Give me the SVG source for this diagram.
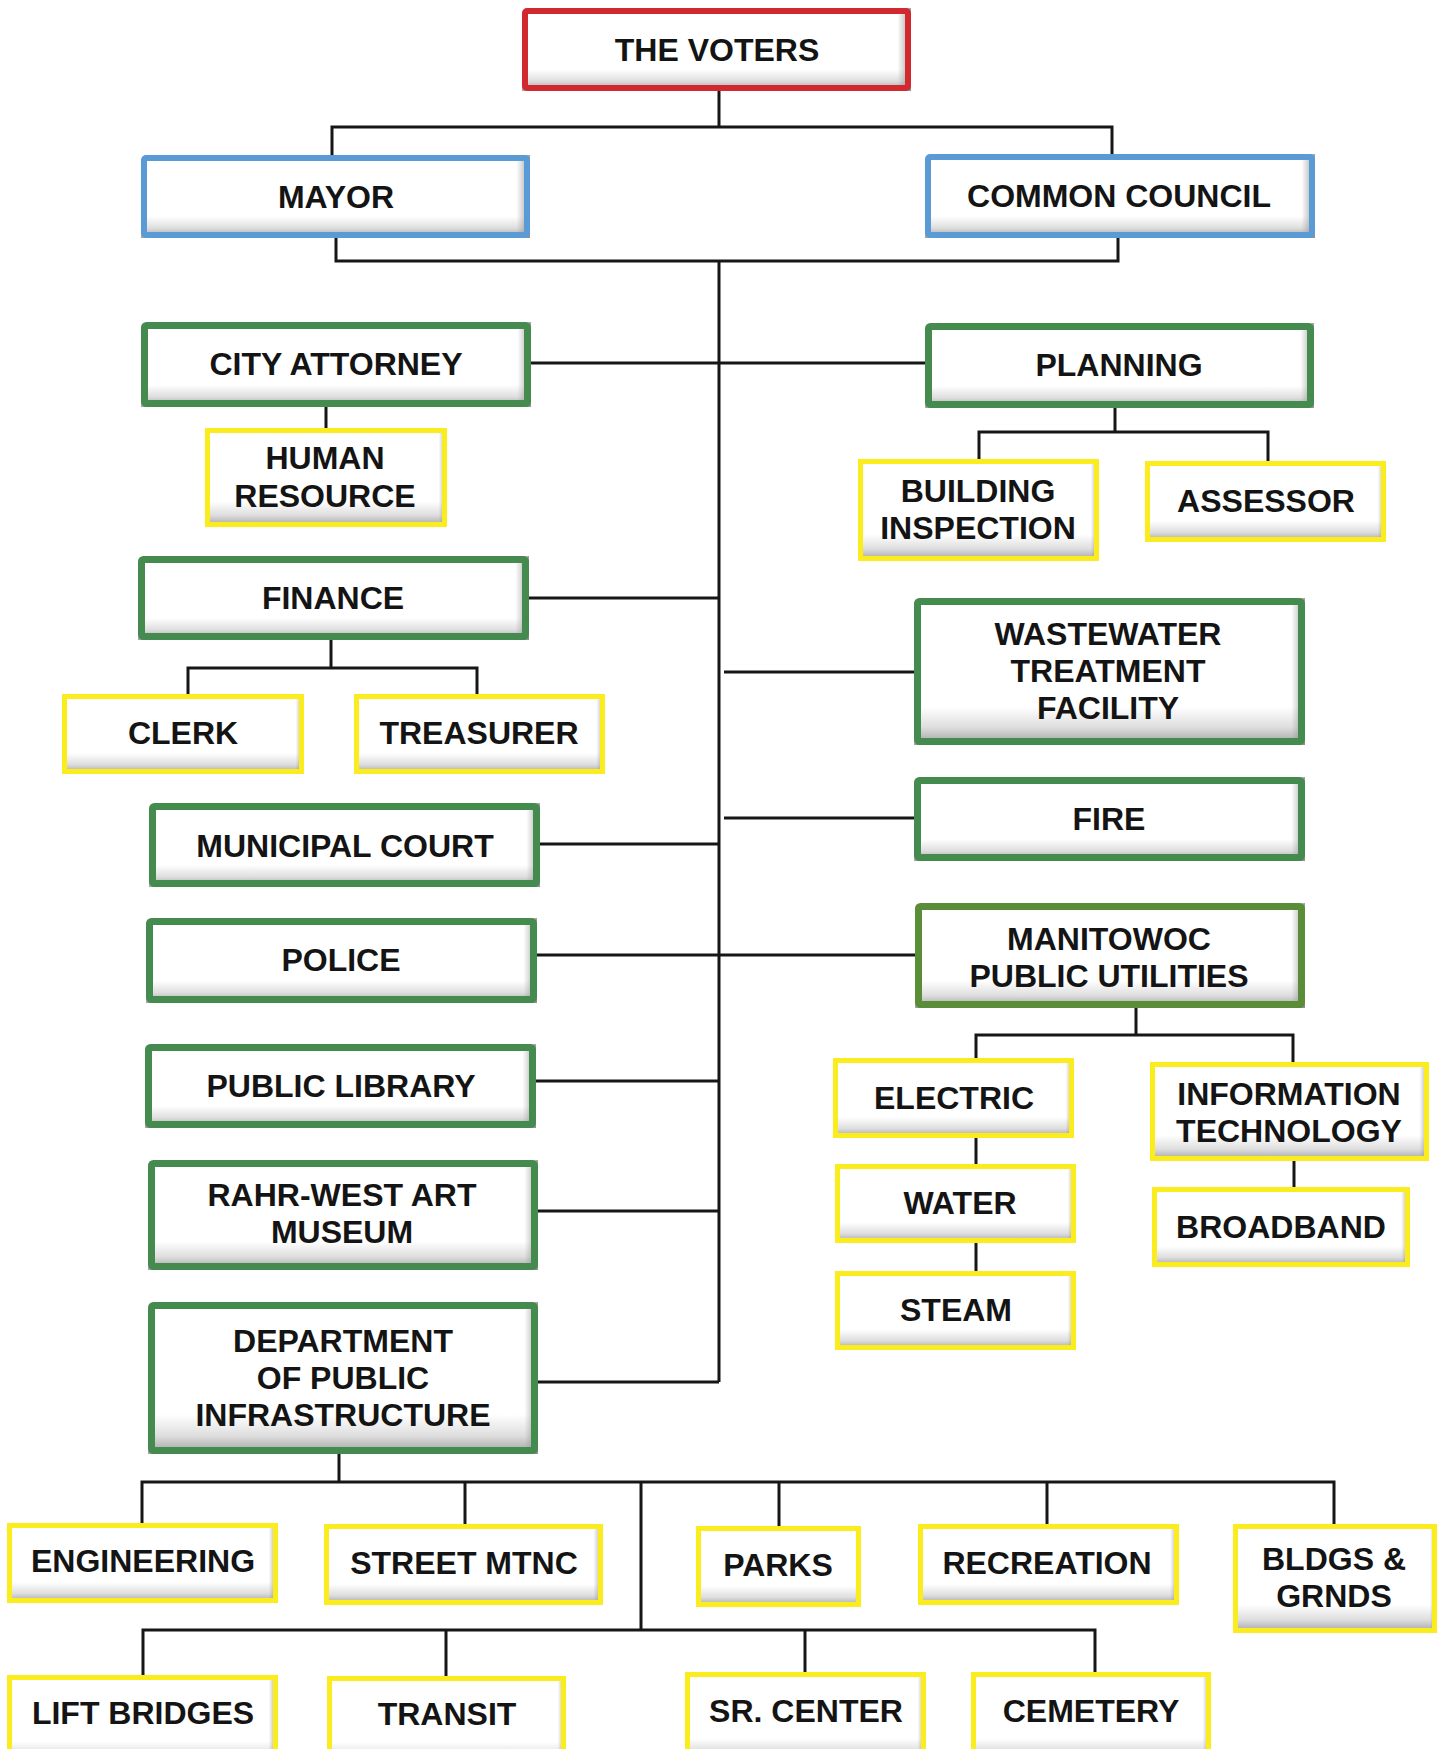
<svg xmlns="http://www.w3.org/2000/svg" width="1443" height="1749" viewBox="0 0 1443 1749">
<defs>
<linearGradient id="vg" x1="0" y1="0" x2="0" y2="1">
<stop offset="0" stop-color="#ffffff"/>
<stop offset="0.74" stop-color="#ffffff"/>
<stop offset="0.88" stop-color="#dedede"/>
<stop offset="1" stop-color="#9e9e9e"/>
</linearGradient>
<linearGradient id="hg" x1="0" y1="0" x2="1" y2="0">
<stop offset="0" stop-color="#9a9a9a" stop-opacity="0"/>
<stop offset="0.965" stop-color="#9a9a9a" stop-opacity="0"/>
<stop offset="1" stop-color="#8a8a8a" stop-opacity="0.85"/>
</linearGradient>
<style>
.f{fill:url(#vg)}
.h{fill:url(#hg)}
.b{fill:none}
.red .b{stroke:#d2282f;stroke-width:6}
.blue .b{stroke:#5b9bd5;stroke-width:6}
.green .b{stroke:#458a4f;stroke-width:7}
.olive .b{stroke:#5b8c37;stroke-width:7}
.yellow .b{stroke:#fbec1e;stroke-width:5}
text{font-family:"Liberation Sans",Arial,sans-serif;font-weight:bold;font-size:32px;fill:#141414;text-anchor:middle}
#connectors path{fill:none;stroke:#161616;stroke-width:3}
</style>
</defs>
<rect width="1443" height="1749" fill="#ffffff"/>
<g id="connectors">
<path d="M719,91 V127"/>
<path d="M332,156 V127 H1112 V154"/>
<path d="M336,238 V261 H1118 V238"/>
<path d="M719,261 V1382"/>
<path d="M531,363 H925"/>
<path d="M326,407 V428"/>
<path d="M1115,408 V432 M979,459 V432 H1268 V461"/>
<path d="M529,598 H719"/>
<path d="M331,640 V668 M188,694 V668 H477 V694"/>
<path d="M724,672 H914"/>
<path d="M724,818 H914"/>
<path d="M540,844 H719"/>
<path d="M537,955 H915"/>
<path d="M1136,1008 V1035 M976,1058 V1035 H1293 V1062"/>
<path d="M536,1081 H719"/>
<path d="M976,1138 V1164"/>
<path d="M976,1243 V1271"/>
<path d="M1294,1161 V1187"/>
<path d="M538,1211 H719"/>
<path d="M538,1382 H719"/>
<path d="M339,1454 V1482 M142,1523 V1482 H1334 V1524 M465,1482 V1524 M779,1482 V1526 M1047,1482 V1524"/>
<path d="M641,1482 V1630 M143,1675 V1630 H1095 V1672 M446,1630 V1676 M805,1630 V1672"/>
</g>

<g id="n-voters" class="red"><rect class="f" x="522" y="8" width="389" height="83"/><rect class="h" x="522" y="8" width="389" height="83"/><rect class="b" x="525" y="11" width="383" height="77" rx="2"/><text x="717" y="61">THE VOTERS</text></g>
<g id="n-mayor" class="blue"><rect class="f" x="141" y="155" width="389" height="83"/><rect class="h" x="141" y="155" width="389" height="83"/><rect class="b" x="144" y="158" width="383" height="77" rx="2"/><text x="336" y="208">MAYOR</text></g>
<g id="n-council" class="blue"><rect class="f" x="925" y="154" width="390" height="84"/><rect class="h" x="925" y="154" width="390" height="84"/><rect class="b" x="928" y="157" width="384" height="78" rx="2"/><text x="1119" y="207">COMMON COUNCIL</text></g>

<g id="n-attorney" class="green"><rect class="f" x="141" y="322" width="390" height="85"/><rect class="h" x="141" y="322" width="390" height="85"/><rect class="b" x="144.5" y="325.5" width="383" height="78" rx="2"/><text x="336" y="375">CITY ATTORNEY</text></g>
<g id="n-planning" class="green"><rect class="f" x="925" y="323" width="389" height="85"/><rect class="h" x="925" y="323" width="389" height="85"/><rect class="b" x="928.5" y="326.5" width="382" height="78" rx="2"/><text x="1119" y="376">PLANNING</text></g>
<g id="n-hr" class="yellow"><rect class="f" x="205" y="428" width="242" height="99"/><rect class="h" x="205" y="428" width="242" height="99"/><rect class="b" x="207.5" y="430.5" width="237" height="94"/><text x="325" y="469">HUMAN</text><text x="325" y="507">RESOURCE</text></g>
<g id="n-building" class="yellow"><rect class="f" x="858" y="459" width="241" height="102"/><rect class="h" x="858" y="459" width="241" height="102"/><rect class="b" x="860.5" y="461.5" width="236" height="97"/><text x="978" y="502">BUILDING</text><text x="978" y="539">INSPECTION</text></g>
<g id="n-assessor" class="yellow"><rect class="f" x="1145" y="461" width="241" height="81"/><rect class="h" x="1145" y="461" width="241" height="81"/><rect class="b" x="1147.5" y="463.5" width="236" height="76"/><text x="1266" y="512">ASSESSOR</text></g>

<g id="n-finance" class="green"><rect class="f" x="138" y="556" width="391" height="84"/><rect class="h" x="138" y="556" width="391" height="84"/><rect class="b" x="141.5" y="559.5" width="384" height="77" rx="2"/><text x="333" y="609">FINANCE</text></g>
<g id="n-clerk" class="yellow"><rect class="f" x="62" y="694" width="242" height="80"/><rect class="h" x="62" y="694" width="242" height="80"/><rect class="b" x="64.5" y="696.5" width="237" height="75"/><text x="183" y="744">CLERK</text></g>
<g id="n-treasurer" class="yellow"><rect class="f" x="354" y="694" width="251" height="80"/><rect class="h" x="354" y="694" width="251" height="80"/><rect class="b" x="356.5" y="696.5" width="246" height="75"/><text x="479" y="744">TREASURER</text></g>

<g id="n-wastewater" class="green"><rect class="f" x="914" y="598" width="391" height="147"/><rect class="h" x="914" y="598" width="391" height="147"/><rect class="b" x="917.5" y="601.5" width="384" height="140" rx="2"/><text x="1108" y="645">WASTEWATER</text><text x="1108" y="682">TREATMENT</text><text x="1108" y="719">FACILITY</text></g>
<g id="n-fire" class="green"><rect class="f" x="914" y="777" width="391" height="84"/><rect class="h" x="914" y="777" width="391" height="84"/><rect class="b" x="917.5" y="780.5" width="384" height="77" rx="2"/><text x="1109" y="830">FIRE</text></g>
<g id="n-court" class="green"><rect class="f" x="149" y="803" width="391" height="84"/><rect class="h" x="149" y="803" width="391" height="84"/><rect class="b" x="152.5" y="806.5" width="384" height="77" rx="2"/><text x="345" y="857">MUNICIPAL COURT</text></g>
<g id="n-police" class="green"><rect class="f" x="146" y="918" width="391" height="85"/><rect class="h" x="146" y="918" width="391" height="85"/><rect class="b" x="149.5" y="921.5" width="384" height="78" rx="2"/><text x="341" y="971">POLICE</text></g>
<g id="n-mpu" class="olive"><rect class="f" x="915" y="903" width="390" height="105"/><rect class="h" x="915" y="903" width="390" height="105"/><rect class="b" x="918.5" y="906.5" width="383" height="98" rx="2"/><text x="1109" y="950">MANITOWOC</text><text x="1109" y="987">PUBLIC UTILITIES</text></g>
<g id="n-electric" class="yellow"><rect class="f" x="833" y="1058" width="241" height="80"/><rect class="h" x="833" y="1058" width="241" height="80"/><rect class="b" x="835.5" y="1060.5" width="236" height="75"/><text x="954" y="1109">ELECTRIC</text></g>
<g id="n-it" class="yellow"><rect class="f" x="1150" y="1062" width="279" height="99"/><rect class="h" x="1150" y="1062" width="279" height="99"/><rect class="b" x="1152.5" y="1064.5" width="274" height="94"/><text x="1289" y="1105">INFORMATION</text><text x="1289" y="1142">TECHNOLOGY</text></g>
<g id="n-library" class="green"><rect class="f" x="145" y="1044" width="391" height="84"/><rect class="h" x="145" y="1044" width="391" height="84"/><rect class="b" x="148.5" y="1047.5" width="384" height="77" rx="2"/><text x="341" y="1097">PUBLIC LIBRARY</text></g>
<g id="n-water" class="yellow"><rect class="f" x="835" y="1164" width="241" height="79"/><rect class="h" x="835" y="1164" width="241" height="79"/><rect class="b" x="837.5" y="1166.5" width="236" height="74"/><text x="960" y="1214">WATER</text></g>
<g id="n-broadband" class="yellow"><rect class="f" x="1152" y="1187" width="258" height="80"/><rect class="h" x="1152" y="1187" width="258" height="80"/><rect class="b" x="1154.5" y="1189.5" width="253" height="75"/><text x="1281" y="1238">BROADBAND</text></g>
<g id="n-rahr" class="green"><rect class="f" x="148" y="1160" width="390" height="110"/><rect class="h" x="148" y="1160" width="390" height="110"/><rect class="b" x="151.5" y="1163.5" width="383" height="103" rx="2"/><text x="342" y="1206">RAHR-WEST ART</text><text x="342" y="1243">MUSEUM</text></g>
<g id="n-steam" class="yellow"><rect class="f" x="835" y="1271" width="241" height="79"/><rect class="h" x="835" y="1271" width="241" height="79"/><rect class="b" x="837.5" y="1273.5" width="236" height="74"/><text x="956" y="1321">STEAM</text></g>
<g id="n-dpi" class="green"><rect class="f" x="148" y="1302" width="390" height="152"/><rect class="h" x="148" y="1302" width="390" height="152"/><rect class="b" x="151.5" y="1305.5" width="383" height="145" rx="2"/><text x="343" y="1352">DEPARTMENT</text><text x="343" y="1389">OF PUBLIC</text><text x="343" y="1426">INFRASTRUCTURE</text></g>

<g id="n-engineering" class="yellow"><rect class="f" x="7" y="1523" width="271" height="80"/><rect class="h" x="7" y="1523" width="271" height="80"/><rect class="b" x="9.5" y="1525.5" width="266" height="75"/><text x="143" y="1572">ENGINEERING</text></g>
<g id="n-street" class="yellow"><rect class="f" x="324" y="1524" width="279" height="81"/><rect class="h" x="324" y="1524" width="279" height="81"/><rect class="b" x="326.5" y="1526.5" width="274" height="76"/><text x="464" y="1574">STREET MTNC</text></g>
<g id="n-parks" class="yellow"><rect class="f" x="696" y="1526" width="165" height="81"/><rect class="h" x="696" y="1526" width="165" height="81"/><rect class="b" x="698.5" y="1528.5" width="160" height="76"/><text x="778" y="1576">PARKS</text></g>
<g id="n-recreation" class="yellow"><rect class="f" x="918" y="1524" width="261" height="81"/><rect class="h" x="918" y="1524" width="261" height="81"/><rect class="b" x="920.5" y="1526.5" width="256" height="76"/><text x="1047" y="1574">RECREATION</text></g>
<g id="n-bldgs" class="yellow"><rect class="f" x="1233" y="1524" width="204" height="109"/><rect class="h" x="1233" y="1524" width="204" height="109"/><rect class="b" x="1235.5" y="1526.5" width="199" height="104"/><text x="1334" y="1570">BLDGS &amp;</text><text x="1334" y="1607">GRNDS</text></g>

<g id="n-lift" class="yellow"><rect class="f" x="7" y="1675" width="271" height="90"/><rect class="h" x="7" y="1675" width="271" height="90"/><rect class="b" x="9.5" y="1677.5" width="266" height="85"/><text x="143" y="1724">LIFT BRIDGES</text></g>
<g id="n-transit" class="yellow"><rect class="f" x="327" y="1676" width="239" height="90"/><rect class="h" x="327" y="1676" width="239" height="90"/><rect class="b" x="329.5" y="1678.5" width="234" height="85"/><text x="447" y="1725">TRANSIT</text></g>
<g id="n-srcenter" class="yellow"><rect class="f" x="685" y="1672" width="241" height="90"/><rect class="h" x="685" y="1672" width="241" height="90"/><rect class="b" x="687.5" y="1674.5" width="236" height="85"/><text x="806" y="1722">SR. CENTER</text></g>
<g id="n-cemetery" class="yellow"><rect class="f" x="971" y="1672" width="240" height="90"/><rect class="h" x="971" y="1672" width="240" height="90"/><rect class="b" x="973.5" y="1674.5" width="235" height="85"/><text x="1091" y="1722">CEMETERY</text></g>
</svg>
